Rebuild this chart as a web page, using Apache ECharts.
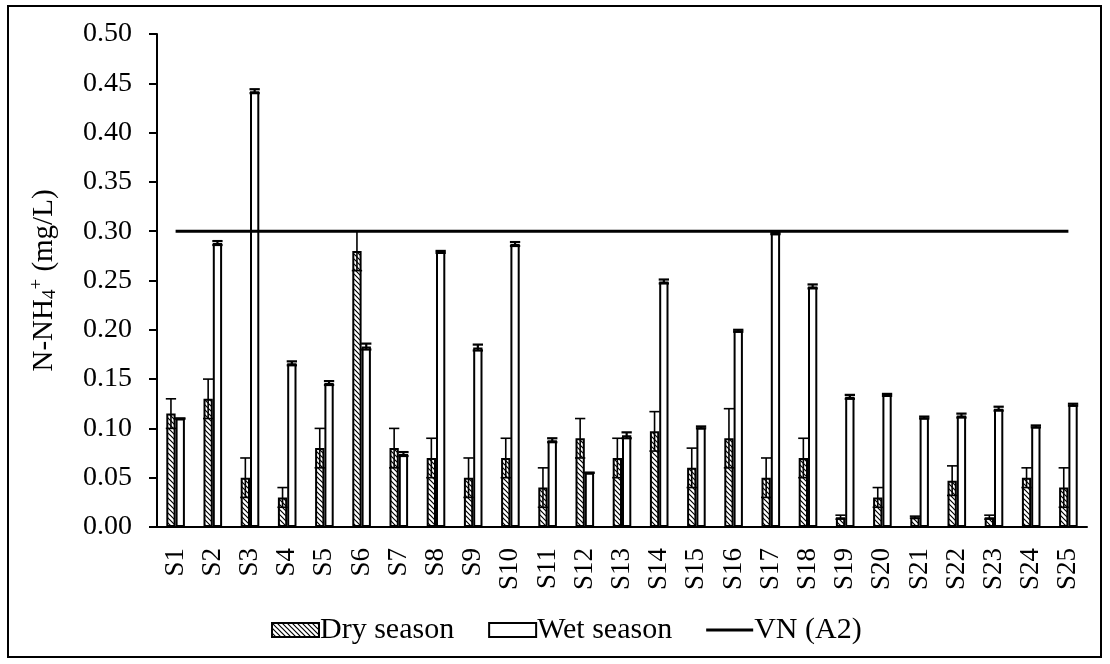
<!DOCTYPE html>
<html>
<head>
<meta charset="utf-8">
<script src="https://cdn.jsdelivr.net/npm/echarts@6/dist/echarts.min.js"></script>
<style>
  html, body { margin: 0; padding: 0; background: #fff; }
  #chart { width: 1110px; height: 664px; }
</style>
</head>
<body>
<div id="chart"></div>
<script>
// Sampling sites
const sites = ['S1','S2','S3','S4','S5','S6','S7','S8','S9','S10','S11','S12','S13',
               'S14','S15','S16','S17','S18','S19','S20','S21','S22','S23','S24','S25'];

// N-NH4+ concentrations (mg/L)
const drySeason = [0.115,0.130,0.050,0.030,0.080,0.280,0.080,0.070,0.050,0.070,0.040,0.090,0.070,
                   0.097,0.060,0.090,0.050,0.070,0.010,0.030,0.010,0.047,0.010,0.050,0.040];
const dryError  = [0.015,0.020,0.020,0.010,0.020,0.020,0.020,0.020,0.020,0.020,0.020,0.020,0.020,
                   0.020,0.020,0.030,0.020,0.020,0.002,0.010,0.001,0.015,0.002,0.010,0.020];
const wetSeason = [0.110,0.288,0.442,0.166,0.146,0.183,0.074,0.279,0.182,0.287,0.088,0.055,0.093,
                   0.249,0.101,0.199,0.298,0.244,0.132,0.134,0.111,0.113,0.120,0.102,0.124];
const wetError  = [0.000,0.002,0.002,0.002,0.002,0.003,0.002,0.001,0.003,0.002,0.002,0.000,0.003,
                   0.002,0.001,0.001,0.001,0.002,0.002,0.001,0.001,0.002,0.002,0.001,0.001];

// National standard limit, column A2
const vnLimit = 0.30;

const yTicks = { min: 0, max: 0.5, interval: 0.05 };

const FONT = '"Liberation Serif", "Times New Roman", serif';

// Diagonal hatch fill for dry-season bars
function hatch() {
  const c = document.createElement('canvas');
  c.width = 5; c.height = 5;
  const g = c.getContext('2d');
  g.fillStyle = '#fff';
  g.fillRect(0, 0, 5, 5);
  g.strokeStyle = '#000';
  g.lineWidth = 1.2;
  g.beginPath();
  g.moveTo(-1, -1); g.lineTo(6, 6);
  g.moveTo(-4, 1); g.lineTo(4, 9);
  g.moveTo(1, -4); g.lineTo(9, 4);
  g.stroke();
  return c;
}
const hatchFill = { image: hatch(), repeat: 'repeat' };

const BAR_FRAC = 0.25;

// Error bars centred on a bar; side = -1 for dry, +1 for wet
function errorSeries(values, errors, side, width) {
  const data = values.map((v, i) => [i, v, errors[i]]);
  return {
    type: 'custom',
    z: 5,
    silent: true,
    data: data,
    renderItem: function (params, api) {
      const i = api.value(0), v = api.value(1), e = api.value(2);
      const band = api.size([1, 0])[0];
      const bw = band * BAR_FRAC;
      const cx = api.coord([i, v])[0] + side * bw / 2;
      const yHi = api.coord([i, v + e])[1];
      const yLo = api.coord([i, Math.max(v - e, 0)])[1];
      const hw = bw / 2 + 0.5;
      const style = { stroke: '#000', lineWidth: width, fill: null };
      return {
        type: 'group',
        children: [
          { type: 'line', shape: { x1: cx, y1: yHi, x2: cx, y2: yLo }, style: style },
          { type: 'line', shape: { x1: cx - hw, y1: yHi, x2: cx + hw, y2: yHi }, style: style },
          { type: 'line', shape: { x1: cx - hw, y1: yLo, x2: cx + hw, y2: yLo }, style: style }
        ]
      };
    }
  };
}

const chart = echarts.init(document.getElementById('chart'), null, { renderer: 'canvas' });

chart.setOption({
  animation: false,
  backgroundColor: '#fff',
  textStyle: { fontFamily: FONT, color: '#000' },
  graphic: [{
    type: 'rect',
    shape: { x: 8, y: 6, width: 1093, height: 651 },
    style: { fill: null, stroke: '#000', lineWidth: 2 },
    silent: true
  }],
  grid: { left: 157, right: 23, top: 34, bottom: 137, containLabel: false },
  legend: {
    bottom: 14,
    left: 266,
    itemWidth: 47,
    itemHeight: 14,
    itemGap: 34,
    symbolKeepAspect: true,
    textStyle: { fontFamily: FONT, fontSize: 30, color: '#000', padding: [0, 0, 0, -4] },
    data: [
      { name: 'Dry season', icon: 'rect' },
      { name: 'Wet season', icon: 'rect' },
      { name: 'VN (A2)', icon: 'path://M0,0h47v3h-47z' }
    ]
  },
  xAxis: {
    type: 'category',
    data: sites,
    axisLine: { lineStyle: { color: '#000', width: 2 } },
    axisTick: { show: false },
    axisLabel: {
      rotate: 90,
      margin: 21,
      fontFamily: FONT,
      fontSize: 27,
      color: '#000'
    }
  },
  yAxis: {
    type: 'value',
    min: yTicks.min,
    max: yTicks.max,
    interval: yTicks.interval,
    splitLine: { show: false },
    axisLine: { show: true, lineStyle: { color: '#000', width: 2 } },
    axisTick: { show: true, inside: false, length: 8, lineStyle: { color: '#000', width: 2 } },
    axisLabel: {
      margin: 25,
      fontFamily: FONT,
      fontSize: 28,
      color: '#000',
      formatter: v => v.toFixed(2)
    },
    name: 'N-NH{sub|4}{sup|+} (mg/L)',
    nameLocation: 'middle',
    nameRotate: 90,
    nameGap: 97,
    nameTextStyle: {
      fontFamily: FONT,
      fontSize: 29,
      color: '#000',
      rich: {
        sub: { fontFamily: FONT, fontSize: 19, verticalAlign: 'bottom', padding: [12, 0, 0, 0], color: '#000' },
        sup: { fontFamily: FONT, fontSize: 19, verticalAlign: 'top', padding: [0, 0, 13, 0], color: '#000' }
      }
    }
  },
  series: [
    {
      name: 'Dry season',
      type: 'bar',
      data: drySeason,
      barWidth: (BAR_FRAC * 100) + '%',
      barGap: '0%',
      itemStyle: { color: hatchFill, borderColor: '#000', borderWidth: 2 }
    },
    {
      name: 'Wet season',
      type: 'bar',
      data: wetSeason,
      barWidth: (BAR_FRAC * 100) + '%',
      barGap: '0%',
      itemStyle: { color: '#fff', borderColor: '#000', borderWidth: 2 }
    },
    errorSeries(drySeason, dryError, -1, 1.6),
    errorSeries(wetSeason, wetError, 1, 2.2),
    {
      name: 'VN (A2)',
      type: 'line',
      z: 10,
      data: sites.map(() => vnLimit),
      showSymbol: false,
      symbol: 'none',
      lineStyle: { color: '#000', width: 3 },
      itemStyle: { color: '#000' }
    }
  ]
});
</script>
</body>
</html>
